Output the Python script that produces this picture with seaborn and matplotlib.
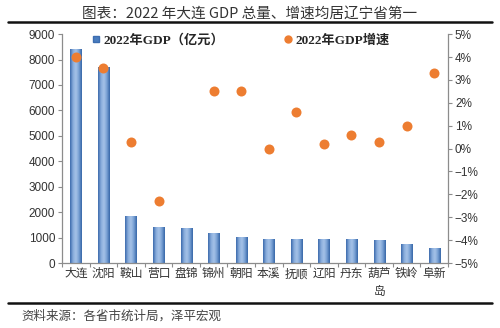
import numpy as np
import pandas as pd
import matplotlib
matplotlib.use("Agg")
import matplotlib.pyplot as plt
from matplotlib.lines import Line2D
from matplotlib.colors import LinearSegmentedColormap
import seaborn as sns

# 2022 GDP of Liaoning cities (100 million yuan) and real growth rate (%)
cities = ["大连", "沈阳", "鞍山", "营口", "盘锦", "锦州", "朝阳",
          "本溪", "抚顺", "辽阳", "丹东", "葫芦岛", "铁岭", "阜新"]
city_labels = ["大连", "沈阳", "鞍山", "营口", "盘锦", "锦州", "朝阳",
               "本溪", "抚顺", "辽阳", "丹东", "葫芦\n岛", "铁岭", "阜新"]
gdp = [8430.9, 7695.8, 1864.9, 1434.2, 1392.4, 1170.1, 1006.6,
       951.2, 955.2, 926.2, 943.1, 916.7, 751.4, 586.0]
growth = [4.0, 3.5, 0.3, -2.3, np.nan, 2.5, 2.5,
          0.0, 1.6, 0.2, 0.6, 0.3, 1.0, 3.3]

gdp_ticks = list(range(0, 9001, 1000))
growth_ticks = list(range(-5, 6, 1))

title = "图表：2022 年大连 GDP 总量、增速均居辽宁省第一"
bar_label = "2022年GDP（亿元）"
dot_label = "2022年GDP增速"
source = "资料来源：各省市统计局，泽平宏观"

df = pd.DataFrame({"city": cities, "gdp": gdp, "growth": growth})

sns.set_theme(style="white")
plt.rcParams["font.family"] = ["Liberation Sans", "Noto Sans CJK SC", "DejaVu Sans"]
plt.rcParams["axes.unicode_minus"] = True

cjk = ["Noto Sans CJK SC", "DejaVu Sans"]
serif_mix = ["Liberation Serif", "Noto Sans CJK SC"]
grey = "#8c8c8c"

fig = plt.figure(figsize=(5.0, 3.28), dpi=100)
fig.patch.set_facecolor("white")
ax = fig.add_axes([0.124, 0.198, 0.772, 0.698])

bar_blue = "#4a7dbf"
sns.barplot(data=df, x="city", y="gdp", order=cities, width=0.4,
            color=bar_blue, saturation=1, ax=ax, zorder=2,
            edgecolor="#3d6db0", linewidth=0.4)

# horizontal shading inside each bar
shade = LinearSegmentedColormap.from_list(
    "barshade", ["#3a69ab", "#88acdc", "#a6c3e8", "#78a0d4", "#3565a6"])
grad = np.linspace(0, 1, 64).reshape(1, -1)
for p in ax.patches:
    x0, y0 = p.get_x(), p.get_y()
    w, h = p.get_width(), p.get_height()
    im = ax.imshow(grad, cmap=shade, aspect="auto", zorder=2.5,
                   extent=[x0, x0 + w, y0, y0 + h], interpolation="bicubic")
    im.set_clip_path(p)

# growth dots on a secondary axis sharing the category positions
ax2 = ax.twinx()
sns.stripplot(x=cities, y=growth, order=cities, jitter=False, ax=ax2,
              color="#ed7d31", size=7.2, linewidth=0, zorder=3)
ax2.set_ylim(-5, 5)
ax2.set_yticks(growth_ticks)
ax2.set_yticklabels([f"{t}%".replace("-", "\u2212") for t in growth_ticks],
                    fontsize=8.5, color="#333333")
ax2.tick_params(axis="y", length=3, color=grey, width=0.8, direction="out",
                right=True, left=False, pad=2)
for s in ["top", "left", "bottom"]:
    ax2.spines[s].set_visible(False)
ax2.spines["right"].set_color(grey)
ax2.spines["right"].set_linewidth(0.9)
ax2.set_ylabel("")
ax2.set_xlabel("")

# primary axis: categories and GDP scale
ax.set_xlim(-0.5, len(cities) - 0.5)
ax.set_ylim(0, 9000)
ax.set_yticks(gdp_ticks)
ax.set_yticklabels([str(t) for t in gdp_ticks], fontsize=8.5, color="#333333")
ax.set_xticks(range(len(cities)))
ax.set_xticklabels(city_labels, fontsize=8.5, color="#333333", family=cjk,
                   linespacing=1.5, va="top")
ax.set_xticks(np.arange(-0.5, len(cities), 1.0), minor=True)
ax.tick_params(axis="x", which="major", length=0, pad=3)
ax.tick_params(axis="x", which="minor", length=3, color=grey, width=0.8,
               direction="out", bottom=True)
ax.tick_params(axis="y", length=3, color=grey, width=0.8, direction="out",
               left=True, pad=2)
ax.set_xlabel("")
ax.set_ylabel("")
for s in ["top", "right"]:
    ax.spines[s].set_visible(False)
for s in ["left", "bottom"]:
    ax.spines[s].set_color(grey)
    ax.spines[s].set_linewidth(0.9)

# legend
handles = [
    Line2D([], [], marker="s", linestyle="none", markersize=4.5,
           markerfacecolor=bar_blue, markeredgecolor="#3d6db0"),
    Line2D([], [], marker="o", linestyle="none", markersize=5,
           markerfacecolor="#ed7d31", markeredgecolor="#ed7d31"),
]
fig.legend(handles, [bar_label, dot_label], ncol=2, frameon=False,
           loc="upper left", bbox_to_anchor=(0.185, 0.897),
           prop={"family": serif_mix, "weight": "bold", "size": 9.5},
           handlelength=0.6, handletextpad=0.25, columnspacing=4.5,
           borderaxespad=0, borderpad=0)

# title and rules
fig.text(0.5, 0.958, title, ha="center", va="center", fontsize=10.5,
         color="#333333", family=cjk)
fig.add_artist(Line2D([0.016, 0.984], [0.933, 0.933], color="#111111",
                      linewidth=1.8, transform=fig.transFigure))
fig.add_artist(Line2D([0.016, 0.984], [0.075, 0.075], color="#111111",
                      linewidth=1.8, transform=fig.transFigure))
fig.text(0.042, 0.035, source, ha="left", va="center", fontsize=9,
         color="#444444", family=cjk)

fig.savefig("out.png", dpi=100, facecolor="white")
